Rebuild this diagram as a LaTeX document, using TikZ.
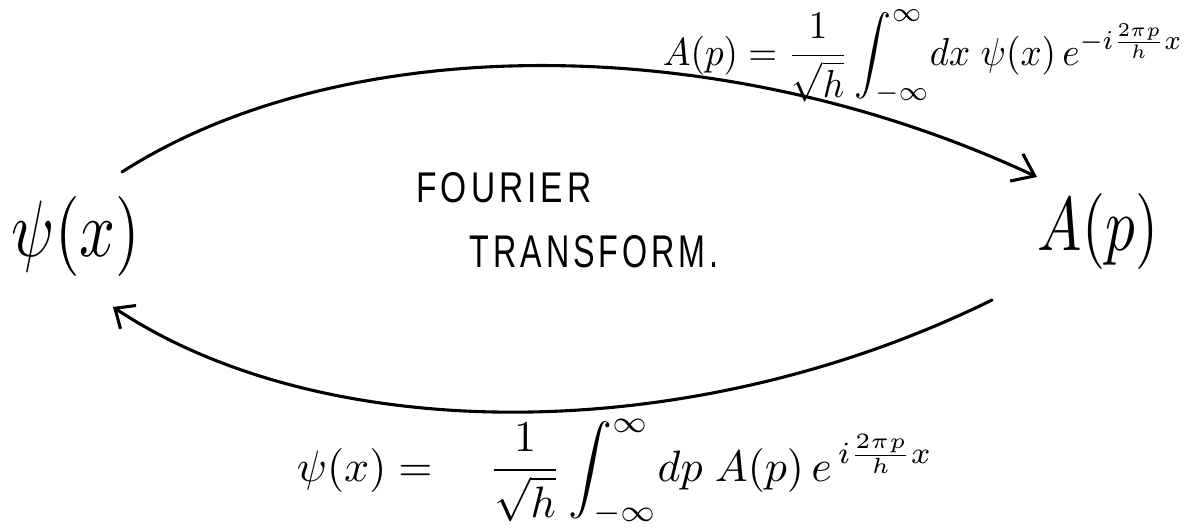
\documentclass[tikz,border=0pt]{standalone}
\usepackage{amsmath}
\usepackage{graphicx}
\usepackage{fontspec}
\newfontfamily\hand{Liberation Sans}[LetterSpace=12]
\usetikzlibrary{arrows.meta}
\tikzset{
  lbl/.style={inner sep=0pt, outer sep=0pt},
  arc/.style={line width=2.2pt, line cap=round, line join=round},
}
\begin{document}
\begin{tikzpicture}[x=0.025cm, y=-0.025cm]
\useasboundingbox (0,0) rectangle (1190,527);
% main labels
\node[lbl] (psi) at (76,236) {\resizebox*{3.2cm}{2.0cm}{$\psi(x)$}};
\node[lbl] (A) at (1098,231) {\resizebox*{3.0cm}{1.9cm}{$A(p)$}};
% centre text
\node[lbl] (four) at (504,188) {\resizebox{4.375cm}{0.75cm}{\hand FOURIER}};
\node[lbl] (trans) at (594,252) {\resizebox{6.2cm}{0.8cm}{\hand TRANSFORM.}};
% formulas
\node[lbl, anchor=north] (ftop) at (923,10) {\resizebox*{13.0cm}{2.35cm}{$A(p) = \dfrac{1}{\sqrt{h}}\displaystyle\int_{-\infty}^{\infty}\! dx\; \psi(x)\, e^{-i\frac{2\pi p}{h}x}$}};
\node[lbl] (fbot) at (615,472) {\resizebox{15.9cm}{!}{$\psi(x) = \quad \dfrac{1}{\sqrt{h}}\displaystyle\int_{-\infty}^{\infty}\! dp\; A(p)\, e^{\,i\frac{2\pi p}{h}x}$}};
% arc end points
\coordinate (ts) at (122,172);
\coordinate (te) at (1037,177);
\coordinate (bs) at (992,300);
\coordinate (be) at (113,307);
\draw[arc, -{Straight Barb[length=0.5cm, width=0.75cm, line width=2.2pt]}]
  (ts) .. controls (340,32) and (716,27) .. (te);
\draw[arc, -{Straight Barb[length=0.4cm, width=0.7cm, line width=2.2pt]}]
  (bs) .. controls (687,450) and (322,446) .. (be);
\end{tikzpicture}
\end{document}
